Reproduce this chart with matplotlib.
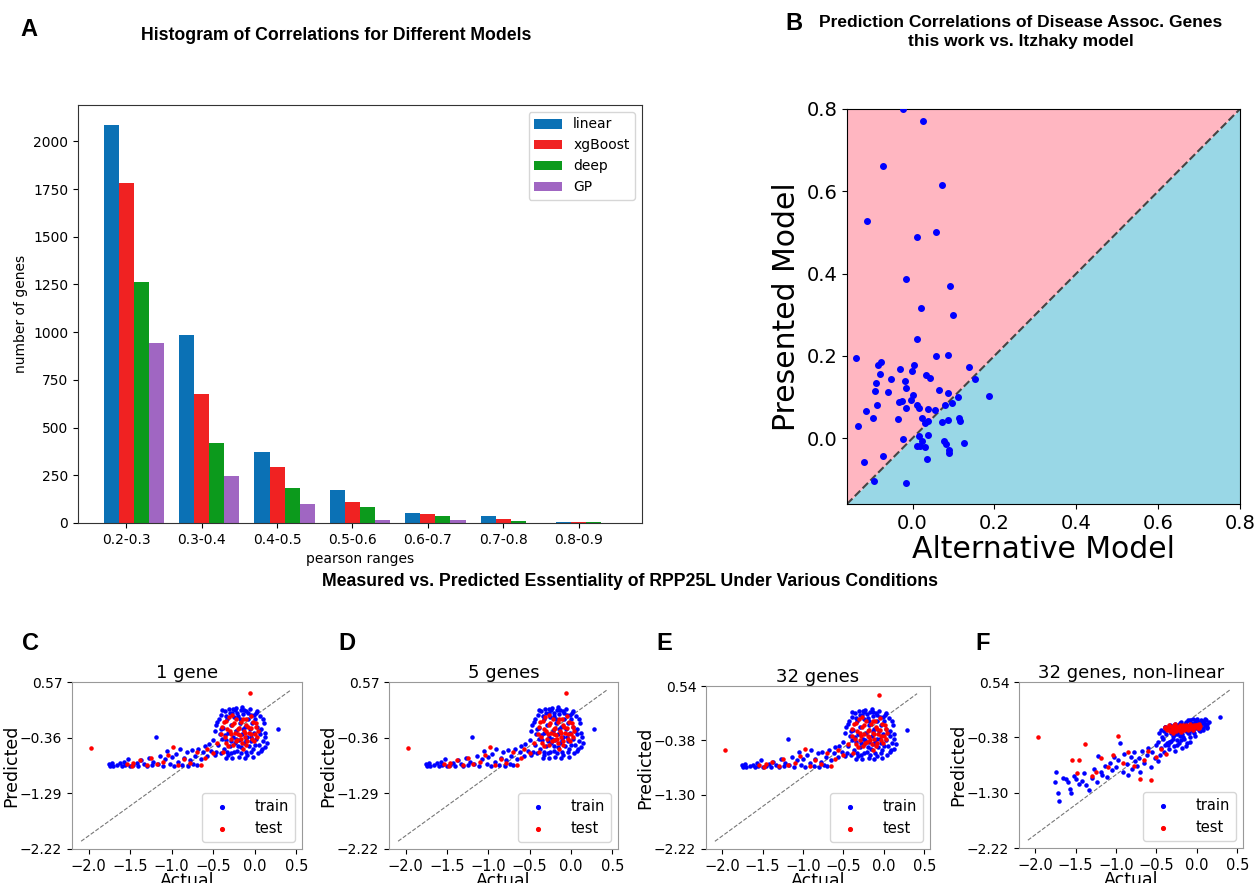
import numpy as np
import matplotlib.pyplot as plt

# panel A: histogram of correlations
RANGES = ['0.2-0.3', '0.3-0.4', '0.4-0.5', '0.5-0.6', '0.6-0.7', '0.7-0.8', '0.8-0.9']
LINEAR = [2086, 986, 373, 171, 54, 37, 6]
XGBOOST = [1780, 675, 291, 108, 48, 22, 5]
DEEP = [1262, 421, 185, 82, 37, 11, 5]
GP = [941, 248, 99, 17, 17, 0, 0]

# panel B: presented vs alternative model correlations
ALT_MODEL = [-0.023, 0.025, -0.071, 0.073, -0.110, 0.012, 0.058, -0.015, 0.091, 0.020,
             0.099, 0.012, -0.139, 0.058, 0.086, -0.084, -0.077, 0.138, -0.030, 0.004,
             -0.001, -0.079, 0.033, 0.043, -0.053, 0.152, -0.088, -0.018, -0.017, 0.064,
             -0.091, -0.061, 0.086, 0.002, 0.187, 0.111, -0.003, -0.025, -0.033, 0.096,
             -0.086, 0.010, 0.079, -0.015, 0.015, 0.038, 0.056, -0.114, -0.096, -0.035,
             0.024, 0.087, 0.113, 0.116, 0.038, 0.031, 0.073, -0.132, 0.015, 0.038,
             -0.023, 0.024, 0.077, 0.125, 0.083, 0.011, 0.019, 0.031, 0.088, 0.090,
             -0.071, 0.036, -0.119, -0.094, -0.015]
PRESENTED_MODEL = [0.800, 0.772, 0.661, 0.616, 0.527, 0.490, 0.500, 0.386, 0.371, 0.317,
                   0.300, 0.242, 0.194, 0.200, 0.202, 0.179, 0.184, 0.174, 0.169, 0.178,
                   0.164, 0.157, 0.153, 0.147, 0.144, 0.144, 0.133, 0.138, 0.123, 0.118,
                   0.114, 0.111, 0.110, 0.105, 0.103, 0.101, 0.093, 0.091, 0.088, 0.085,
                   0.080, 0.080, 0.080, 0.073, 0.073, 0.071, 0.069, 0.067, 0.049, 0.047,
                   0.049, 0.045, 0.048, 0.042, 0.041, 0.036, 0.040, 0.029, 0.005, 0.007,
                   -0.002, -0.006, -0.008, -0.011, -0.015, -0.019, -0.020, -0.021, -0.028, -0.035,
                   -0.044, -0.050, -0.059, -0.105, -0.110]

# panels C-F: RPP25L essentiality, actual vs predicted
ACTUAL_TRAIN = [-1.75, -1.74, -1.72, -1.71, -1.66, -1.62, -1.60, -1.57, -1.56, -1.52,
                -1.50, -1.46, -1.42, -1.40, -1.37, -1.33, -1.30, -1.27, -1.24, -1.22,
                -1.19, -1.17, -1.14, -1.11, -1.08, -1.05, -1.02, -1.00, -0.97, -0.95,
                -0.92, -0.90, -0.87, -0.85, -0.82, -0.80, -0.78, -0.76, -0.74, -0.72,
                -0.70, -0.68, -0.65, -0.62, -0.60, -0.57, -0.55, -0.52, -0.50, -0.48,
                -0.45, -0.44, -0.42, -0.41, -0.40, -0.38, -0.37, -0.36, -0.35, -0.34,
                -0.33, -0.32, -0.31, -0.30, -0.29, -0.28, -0.27, -0.26, -0.25, -0.24,
                -0.23, -0.22, -0.21, -0.20, -0.19, -0.18, -0.17, -0.16, -0.15, -0.14,
                -0.13, -0.12, -0.11, -0.10, -0.09, -0.08, -0.07, -0.06, -0.05, -0.04,
                -0.03, -0.02, -0.01, 0.00, 0.02, 0.03, 0.05, 0.07, 0.08, 0.10,
                0.12, 0.13, 0.28, -0.48, -0.46, -0.39, -0.33, -0.27, -0.24, -0.19,
                -0.15, -0.12, -0.06, -0.02, 0.01, 0.04, 0.06, 0.09, 0.11, 0.15,
                -0.47, -0.43, -0.41, -0.39, -0.36, -0.34, -0.32, -0.30, -0.28, -0.26,
                -0.25, -0.23, -0.21, -0.20, -0.18, -0.17, -0.14, -0.13, -0.11, -0.09,
                -0.08, -0.05, -0.04, -0.01, 0.00, 0.03, 0.05, 0.08, 0.10, 0.12]
PRED_TRAIN_LINEAR = [-0.80, -0.83, -0.78, -0.83, -0.82, -0.79, -0.83, -0.76, -0.82, -0.72,
                     -0.83, -0.81, -0.78, -0.83, -0.74, -0.80, -0.83, -0.70, -0.82, -0.76,
                     -0.35, -0.80, -0.66, -0.83, -0.72, -0.58, -0.80, -0.69, -0.83, -0.63,
                     -0.76, -0.55, -0.81, -0.70, -0.60, -0.83, -0.74, -0.57, -0.80, -0.66,
                     -0.82, -0.55, -0.72, -0.60, -0.50, -0.66, -0.47, -0.58, -0.40, -0.65,
                     -0.10, -0.48, -0.30, -0.62, 0.02, -0.20, -0.55, 0.08, -0.40, -0.70,
                     -0.05, -0.28, 0.12, -0.50, -0.15, -0.62, 0.05, -0.35, -0.02, -0.45,
                     0.14, -0.25, -0.58, 0.00, -0.40, -0.12, 0.10, -0.52, -0.30, 0.04,
                     -0.45, -0.18, -0.60, 0.08, -0.35, -0.05, -0.50, -0.22, 0.02, -0.42,
                     -0.12, -0.55, -0.28, -0.05, -0.38, -0.18, -0.48, -0.30, -0.22, -0.42,
                     -0.28, -0.35, -0.21, -0.25, -0.60, -0.38, -0.60, -0.70, 0.10, -0.68,
                     0.15, -0.70, 0.12, -0.68, 0.05, -0.62, 0.00, -0.55, -0.12, -0.45,
                     -0.15, -0.05, -0.22, 0.10, -0.32, 0.00, -0.65, 0.05, -0.42, 0.12,
                     -0.60, -0.38, 0.06, -0.50, -0.05, -0.62, -0.22, 0.10, -0.40, -0.65,
                     0.05, -0.35, -0.60, 0.02, -0.48, 0.08, -0.25, -0.58, -0.05, -0.52]
PRED_TRAIN_NONLINEAR = [-1.13, -0.96, -1.30, -1.44, -1.05, -1.08, -1.12, -1.24, -1.31, -1.02,
                        -1.08, -1.15, -1.10, -0.98, -1.18, -1.26, -1.05, -0.90, -1.12, -0.69,
                        -0.95, -1.00, -0.85, -1.04, -0.80, -0.92, -0.70, -0.88, -0.75, -0.48,
                        -0.95, -0.66, -0.82, -1.00, -0.70, -0.90, -0.62, -0.78, -0.85, -0.72,
                        -0.95, -0.60, -0.80, -0.68, -0.55, -0.88, -0.62, -0.72, -0.50, -0.78,
                        -0.25, -0.55, -0.40, -0.62, -0.20, -0.33, -0.48, -0.22, -0.45, -0.58,
                        -0.18, -0.30, -0.26, -0.40, -0.35, -0.52, -0.15, -0.28, -0.42, -0.22,
                        -0.18, -0.47, -0.36, -0.12, -0.25, -0.33, -0.20, -0.40, -0.15, -0.28,
                        -0.53, -0.22, -0.10, -0.30, -0.18, -0.38, -0.14, -0.25, -0.08, -0.20,
                        -0.30, -0.12, -0.22, -0.07, -0.16, -0.25, -0.10, -0.12, -0.23, -0.18,
                        -0.20, -0.15, -0.04, -0.45, -0.68, -0.50, -0.46, -0.60, -0.32, -0.55,
                        -0.17, -0.48, -0.16, -0.35, -0.19, -0.28, -0.11, -0.14, -0.09, -0.13,
                        -0.30, -0.38, -0.27, -0.21, -0.50, -0.24, -0.44, -0.19, -0.34, -0.23,
                        -0.51, -0.29, -0.14, -0.42, -0.24, -0.38, -0.19, -0.12, -0.31, -0.45,
                        -0.10, -0.27, -0.15, -0.09, -0.21, -0.13, -0.17, -0.26, -0.08, -0.22]

ACTUAL_TEST = [-1.97, -1.54, -1.48, -1.46, -1.38, -1.30, -1.25, -1.18, -1.10, -1.04,
               -0.98, -0.92, -0.85, -0.78, -0.70, -0.65, -0.60, -0.57, -0.50, -0.45,
               -0.38, -0.40, -0.37, -0.35, -0.33, -0.31, -0.29, -0.27, -0.26, -0.24,
               -0.22, -0.21, -0.19, -0.18, -0.16, -0.15, -0.13, -0.12, -0.10, -0.09,
               -0.07, -0.06, -0.05, -0.03, -0.02, 0.00, 0.02, 0.04, -0.30, -0.20, -0.11,
               -0.39, -0.36, -0.34, -0.32, -0.28, -0.25, -0.23, -0.20, -0.17, -0.14,
               -0.12, -0.10, -0.08, -0.04, -0.01, 0.01, 0.03, -0.27, -0.14, -0.05]
PRED_TEST_LINEAR = [-0.54, -0.80, -0.83, -0.78, -0.74, -0.82, -0.70, -0.80, -0.76, -0.65,
                    -0.52, -0.82, -0.72, -0.78, -0.60, -0.82, -0.70, -0.55, -0.62, -0.45,
                    -0.60, -0.30, -0.10, -0.45, -0.22, -0.02, -0.38, -0.15, -0.48, -0.28,
                    -0.05, -0.40, -0.20, -0.32, -0.10, -0.45, -0.25, -0.35, -0.15, -0.42,
                    -0.28, 0.39, -0.20, -0.38, -0.10, -0.30, -0.18, -0.25, -0.25, -0.30, -0.05,
                    -0.18, -0.35, -0.08, -0.50, -0.30, -0.12, -0.42, -0.22, -0.38, -0.05,
                    -0.28, -0.48, -0.18, -0.30, -0.42, -0.12, -0.35, 0.02, -0.55, 0.00]
PRED_TEST_NONLINEAR = [-0.38, -0.76, -0.97, -0.75, -0.49, -1.02, -0.95, -0.72, -0.88, -0.68,
                       -0.36, -0.80, -0.62, -0.85, -1.07, -0.75, -0.60, -1.09, -0.70, -0.58,
                       -0.66, -0.22, -0.26, -0.18, -0.28, -0.20, -0.24, -0.16, -0.27, -0.21,
                       -0.25, -0.17, -0.23, -0.19, -0.26, -0.21, -0.18, -0.24, -0.20, -0.16,
                       -0.22, -0.19, -0.25, -0.18, -0.21, -0.17, -0.23, -0.19, -0.30, -0.29, -0.26,
                       -0.20, -0.24, -0.19, -0.27, -0.18, -0.23, -0.20, -0.26, -0.17, -0.22,
                       -0.19, -0.24, -0.17, -0.21, -0.18, -0.22, -0.16, -0.22, -0.20, -0.23]

TITLES = ['1 gene', '5 genes', '32 genes', '32 genes, non-linear']
LETTERS = ['C', 'D', 'E', 'F']
YTICKS_SMALL = [0.57, -0.36, -1.29, -2.22]
YTICKS_LARGE = [0.54, -0.38, -1.30, -2.22]
XTICKS = [-2.0, -1.5, -1.0, -0.5, 0.0, 0.5]

W, H = 1255, 883
fig = plt.figure(figsize=(W / 100, H / 100), dpi=100)
BOLD = dict(family='Liberation Sans', fontweight='bold')


def add_box(l, t, r, b):
    # pixel box -> figure axes
    return fig.add_axes([l / W, 1 - b / H, (r - l) / W, (b - t) / H])


# ---- A ----
ax = add_box(78, 105, 642, 523)
x = np.arange(len(RANGES))
w = 0.2
ax.bar(x - w, LINEAR, w, color='#0b71b5', label='linear')
ax.bar(x, XGBOOST, w, color='#f02222', label='xgBoost')
ax.bar(x + w, DEEP, w, color='#0c9a1c', label='deep')
ax.bar(x + 2 * w, GP, w, color='#a066c2', label='GP')
ax.set_xticks(x)
ax.set_xticklabels(RANGES)
ax.set_xlabel('pearson ranges', fontsize=10)
ax.set_ylabel('number of genes', fontsize=10)
ax.tick_params(labelsize=10)
ax.legend(loc='upper right', fontsize=10)
for s in ax.spines.values():
    s.set_color('#333333')
fig.text(20 / W, 1 - 30 / H, 'A', fontsize=17, va='center', ha='left', **BOLD)
fig.text(336 / W, 1 - 35 / H, 'Histogram of Correlations for Different Models',
         fontsize=12.7, ha='center', va='center', **BOLD)

# ---- B ----
ax = add_box(847, 109, 1240, 504)
lo, hi = -0.16, 0.8
ax.fill_between([lo, hi], [lo, hi], [hi, hi], color='#ffb6c1', lw=0)
ax.fill_between([lo, hi], [lo, lo], [lo, hi], color='#99d7e6', lw=0)
ax.plot([lo, hi], [lo, hi], ls='--', color='#444444', lw=1.5)
ax.scatter(ALT_MODEL, PRESENTED_MODEL, s=16, color='blue', zorder=3)
ax.set_xlim(lo, hi)
ax.set_ylim(lo, hi)
ax.set_xticks([0.0, 0.2, 0.4, 0.6, 0.8])
ax.set_yticks([0.0, 0.2, 0.4, 0.6, 0.8])
ax.tick_params(labelsize=14)
ax.set_xlabel('Alternative Model', fontsize=21.5, labelpad=2)
ax.set_ylabel('Presented Model', fontsize=21.5)
fig.text(785 / W, 1 - 23 / H, 'B', fontsize=17, va='center', ha='left', **BOLD)
fig.text(1021 / W, 1 - 32 / H, 'Prediction Correlations of Disease Assoc. Genes\nthis work vs. Itzhaky model',
         fontsize=12.5, ha='center', va='center', linespacing=1.35, **BOLD)

# ---- C-F ----
fig.text(630 / W, 1 - 581 / H, 'Measured vs. Predicted Essentiality of RPP25L Under Various Conditions',
         fontsize=12.7, ha='center', va='center', **BOLD)

boxes = [(72, 682, 302, 849), (389, 682, 618, 849), (706, 686, 930, 849), (1019, 682, 1243, 848)]
letter_x = [22, 338, 656, 975]
pred_train = [PRED_TRAIN_LINEAR, PRED_TRAIN_LINEAR, PRED_TRAIN_LINEAR, PRED_TRAIN_NONLINEAR]
pred_test = [PRED_TEST_LINEAR, PRED_TEST_LINEAR, PRED_TEST_LINEAR, PRED_TEST_NONLINEAR]
yticks_all = [YTICKS_SMALL, YTICKS_SMALL, YTICKS_LARGE, YTICKS_LARGE]

for i in range(4):
    ax = add_box(*boxes[i])
    yt = yticks_all[i]
    ymin, ymax = min(yt), max(yt)
    ax.plot([-2.09, ymax - 0.13], [-2.09, ymax - 0.13], ls='--', color='#777777', lw=0.8, zorder=1)
    ax.scatter(ACTUAL_TRAIN, pred_train[i], s=5, color='blue', label='train', zorder=2)
    ax.scatter(ACTUAL_TEST, pred_test[i], s=5, color='red', label='test', zorder=3)
    ax.set_xlim(-2.2, 0.57)
    ax.set_ylim(ymin, ymax)
    ax.set_xticks(XTICKS)
    ax.set_yticks(yt)
    ax.set_yticklabels([f'{v:.2f}'.replace('-', '\u2212') for v in yt])
    ax.tick_params(axis='x', labelsize=10.5)
    ax.tick_params(axis='y', labelsize=10)
    ax.set_title(TITLES[i], fontsize=13, pad=2)
    ax.set_xlabel('Actual', fontsize=12.5, labelpad=-1)
    ax.set_ylabel('Predicted', fontsize=12.5, labelpad=0)
    ax.legend(loc='lower right', fontsize=10.5, markerscale=1.2, handletextpad=1.2)
    for s in ax.spines.values():
        s.set_color('#999999')
    fig.text(letter_x[i] / W, 1 - 643 / H, LETTERS[i], fontsize=17, va='center', ha='left', **BOLD)

fig.savefig('out.png', dpi=100)
